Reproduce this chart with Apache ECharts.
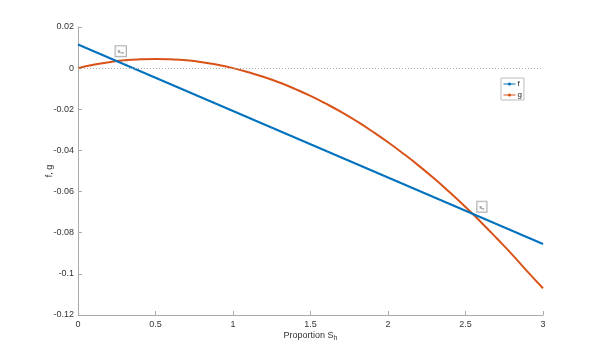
<!DOCTYPE html>
<html><head><meta charset="utf-8">
<script src="https://cdn.jsdelivr.net/npm/echarts@6/dist/echarts.min.js"></script>
<style>html,body{margin:0;padding:0;background:#fff}#c{width:600px;height:354px}</style>
</head><body><div id="c"></div>
<script>
const xTicks = [0, 0.5, 1, 1.5, 2, 2.5, 3];
const yTicks = [0.02, 0, -0.02, -0.04, -0.06, -0.08, -0.1, -0.12];
const fX = [0, 3];
const fY = [0.0115, -0.0855];
const gX = [0,0.1,0.2,0.3,0.4,0.5,0.6,0.7,0.8,0.9,1.0,1.1,1.2,1.3,1.4,1.5,1.6,1.7,1.8,1.9,2.0,2.1,2.2,2.3,2.4,2.5,2.6,2.7,2.8,2.9,3.0];
const gY = [0,0.0016,0.0029,0.0038,0.0043,0.0045,0.0043,0.0038,0.0029,0.0016,0,-0.0020,-0.0043,-0.0070,-0.0101,-0.0135,-0.0173,-0.0214,-0.0259,-0.0308,-0.0360,-0.0416,-0.0475,-0.0538,-0.0605,-0.0675,-0.0749,-0.0826,-0.0905,-0.0989,-0.1070];
const annotX = [0.25, 2.58];
const annotY = [0.0034, -0.0722];
const annotSub = ['m', 'e'];

const zip = (xs, ys) => xs.map((x, i) => [x, ys[i]]);
const chart = echarts.init(document.getElementById('c'));
const fmt = v => String(parseFloat(v.toFixed(4)));
const font = 'Helvetica, Arial, "Liberation Sans", sans-serif';
chart.setOption({
  animation: false,
  grid: {left: 78, right: 57, top: 27, bottom: 39},
  legend: {
    orient: 'vertical', left: 501, top: 78,
    data: ['f', 'g'],
    itemWidth: 12, itemHeight: 4, itemGap: 3,
    padding: [2, 2, 1, 2],
    borderColor: '#bbb', borderWidth: 1, borderRadius: 0,
    backgroundColor: '#fff',
    lineStyle: {width: 1},
    textStyle: {fontSize: 8, color: '#222', fontFamily: font, padding: [0,0,0,-3]}
  },
  xAxis: {
    type: 'value', min: 0, max: 3, interval: 0.5,
    name: 'Proportion S{sub|h}', nameLocation: 'middle', nameGap: 14,
    nameMoveOverlap: false,
    nameTextStyle: {fontSize: 9, color: '#333', fontFamily: font,
      rich: {sub: {fontSize: 7, verticalAlign: 'bottom', padding: [6,0,0,0], color: '#333'}}},
    axisLine: {onZero: false, lineStyle: {color: '#aaa'}},
    axisTick: {inside: true, length: 4, lineStyle: {color: '#aaa'}},
    axisLabel: {fontSize: 9, color: '#333', fontFamily: font, margin: 5, formatter: fmt},
    splitLine: {show: false}
  },
  yAxis: {
    type: 'value', min: -0.12, max: 0.02, interval: 0.02,
    name: 'f, g', nameLocation: 'middle', nameGap: 24,
    nameMoveOverlap: false,
    nameTextStyle: {fontSize: 9, color: '#333', fontFamily: font},
    axisLine: {show: true, onZero: false, lineStyle: {color: '#aaa'}},
    axisTick: {show: true, inside: true, length: 4, lineStyle: {color: '#aaa'}},
    axisLabel: {fontSize: 9, color: '#333', fontFamily: font, margin: 4, formatter: fmt},
    splitLine: {show: false}
  },
  series: [
    {
      name: 'f', type: 'line', data: zip(fX, fY),
      showSymbol: false, symbol: 'circle', symbolSize: 3,
      itemStyle: {color: '#0072BD'},
      lineStyle: {width: 2, color: '#0072BD'},
      z: 3,
      markLine: {
        silent: true, symbol: 'none', label: {show: false},
        lineStyle: {color: '#aaa', type: [1, 2], width: 1},
        data: [{yAxis: 0}]
      }
    },
    {
      name: 'g', type: 'line', data: zip(gX, gY), smooth: true,
      showSymbol: false, symbol: 'circle', symbolSize: 3,
      itemStyle: {color: '#D95319'},
      lineStyle: {width: 2, color: '#D95319'},
      z: 2
    },
    {
      name: 'annot', type: 'scatter', symbolSize: 0, silent: true,
      data: annotX.map((x, i) => ({value: [x, annotY[i]], sub: annotSub[i]})),
      label: {
        show: true, position: 'top', distance: 5,
        offset: [4, 0],
        formatter: p => 's{s|' + p.data.sub + '}',
        fontSize: 6, color: '#333', fontFamily: font,
        borderColor: '#999', borderWidth: 1, padding: [2, 2, 1, 2],
        backgroundColor: '#fff',
        rich: {s: {fontSize: 4, verticalAlign: 'bottom', padding: [3,0,0,0], color: '#333'}}
      },
      z: 5
    }
  ]
});
</script></body></html>
